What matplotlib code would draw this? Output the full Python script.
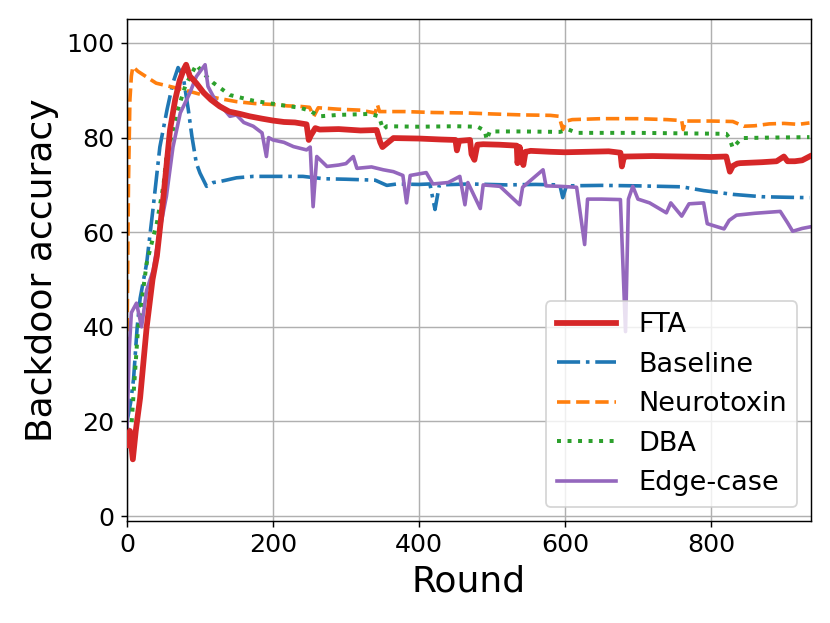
import matplotlib
matplotlib.use("Agg")
import matplotlib.pyplot as plt

# (round, backdoor accuracy)
fta = [(0, 15), (4, 18), (8, 12), (12, 18), (18, 25), (27, 40), (35, 50), (41, 55),
       (50, 67.6), (59, 81.7), (66, 88), (72, 92), (78, 94.5), (81, 95.4), (86, 93),
       (95, 91.5), (105, 89.5), (115, 88), (127, 86.6), (140, 85.5), (155, 85),
       (168, 84.5), (185, 84), (200, 83.6), (215, 83.3), (230, 83.2), (246, 82.8),
       (249, 79.5), (252, 80.5), (258, 82), (264, 81.7), (290, 81.8), (320, 81.5),
       (342, 81.6), (347, 79), (350, 78), (365, 79.9), (400, 79.8), (430, 79.6),
       (450, 79.5), (452, 77.3), (455, 79.3), (470, 79.5), (472, 76.5), (476, 75.3),
       (480, 78.5), (488, 78.6), (510, 78.5), (534, 78.3), (535, 74.6), (538, 78),
       (543, 74.2), (546, 77), (550, 77.1), (553, 77.2), (580, 77), (600, 76.9),
       (630, 77), (660, 77.1), (676, 76.8), (678, 73.9), (681, 76), (684, 76),
       (720, 76.1), (760, 76), (800, 75.9), (821, 76), (826, 72.8), (830, 74),
       (836, 74.5), (840, 74.6), (870, 74.8), (890, 75), (900, 76), (905, 75),
       (915, 75), (925, 75.2), (935, 76)]

baseline = [(0, 20), (5, 24), (9, 29), (14, 40), (18, 46), (27, 53.5), (36, 65.4),
            (45, 78), (55, 86), (63, 91.6), (70, 94.8), (77, 92.9), (84, 85.9),
            (89, 80.2), (95, 74.6), (100, 72.5), (109, 69.7), (118, 70.5), (127, 70.7),
            (150, 71.5), (173, 71.8), (200, 71.8), (241, 71.8), (270, 71.3), (300, 71.2),
            (340, 71), (356, 69.9), (370, 70.2), (400, 70.1), (415, 70.2), (422, 64.8),
            (428, 70), (470, 70.2), (520, 70), (560, 70.1), (593, 70), (597, 67.3),
            (602, 69.8), (650, 69.9), (700, 69.8), (760, 69.6), (790, 68.8), (830, 68),
            (870, 67.5), (900, 67.4), (935, 67.3)]

neurotoxin = [(0, 35), (2, 70), (4, 88), (6, 93), (8, 95), (15, 94), (25, 93),
              (40, 91.5), (59, 90.8), (80, 90), (104, 89), (125, 88.3), (150, 87.6),
              (175, 87.2), (200, 87), (220, 86.7), (237, 86.6), (250, 86.4), (256, 84.5),
              (262, 86.3), (290, 86), (320, 85.8), (340, 85.2), (343, 87), (346, 85.5),
              (380, 85.5), (420, 85.3), (466, 85.2), (500, 85), (540, 84.8), (580, 84.7),
              (592, 84.5), (597, 81.7), (602, 83.5), (610, 83.8), (650, 84), (700, 84),
              (740, 83.8), (760, 83.6), (762, 81.7), (765, 83.5), (800, 83.5), (830, 83.4),
              (845, 82.4), (860, 82.5), (880, 82.9), (900, 83.0), (920, 82.8), (935, 83.1)]

dba = [(0, 18), (6, 19), (15, 39.4), (27, 53.5), (36, 59), (41, 62), (50, 70), (54, 76),
       (59, 79), (68, 85), (80, 91), (95, 95.4), (105, 93.5), (118, 91.6), (141, 89),
       (173, 87.8), (210, 86.9), (237, 86.3), (250, 85.7), (264, 84.5), (290, 84.8),
       (333, 85), (345, 84.5), (351, 81.7), (356, 82.4), (400, 82.3), (450, 82.4),
       (480, 82.3), (490, 81.5), (493, 79.5), (497, 81.3), (540, 81.3), (593, 81.2),
       (605, 81.7), (616, 81), (700, 81), (760, 80.9), (821, 80.8), (825, 80),
       (830, 77.8), (842, 79.9), (880, 80), (935, 80.1)]

edge_case = [(0, 18), (3, 35), (6, 43), (13, 45), (20, 40), (27, 47.8), (36, 52),
             (45, 60.5), (54, 67.6), (63, 78), (73, 85.2), (86, 89.4), (95, 92.9),
             (107, 95.4), (111, 90.8), (123, 87.3), (130, 86.5), (141, 84.5), (150, 84.8),
             (160, 83.2), (173, 82.4), (185, 81), (191, 76), (194, 80), (200, 79.5),
             (215, 79), (228, 78.1), (246, 77.4), (251, 78), (255, 65.4), (260, 76),
             (274, 73.9), (290, 74.2), (300, 74.5), (310, 76), (315, 73.5), (335, 73.8),
             (351, 73.2), (365, 72.8), (378, 72), (383, 66.2), (388, 72), (410, 72.6),
             (419, 70.2), (440, 70.5), (456, 71.8), (463, 65.8), (467, 70.5), (484, 65),
             (488, 70), (511, 69.7), (538, 65.8), (542, 69.5), (570, 73.2), (574, 69.8),
             (593, 69.7), (616, 69.5), (627, 57.4), (631, 67), (650, 67), (676, 66.9),
             (683, 39), (687, 67), (693, 69.7), (700, 67), (716, 66.2), (739, 64.1),
             (745, 66.2), (760, 63.4), (770, 66), (790, 66.2), (795, 61.8), (818, 60.7),
             (825, 62.5), (835, 63.6), (860, 64), (895, 64.4), (905, 62), (912, 60.2),
             (925, 60.8), (935, 61.1)]

x_ticks = [0, 200, 400, 600, 800]
y_ticks = [0, 20, 40, 60, 80, 100]


def xy(pts):
    return [p[0] for p in pts], [p[1] for p in pts]


def main():
    fig = plt.figure(figsize=(830 / 130, 623 / 130), dpi=130)
    ax = fig.add_axes([0.153, 0.164, 0.824, 0.805])
    ax.grid(True, color='#b0b0b0', linewidth=0.8)
    ax.set_axisbelow(True)

    ax.plot(*xy(fta), color='tab:red', linewidth=3.2, label='FTA', zorder=5)
    ax.plot(*xy(baseline), color='tab:blue', linestyle='-.', linewidth=2, label='Baseline')
    ax.plot(*xy(neurotoxin), color='tab:orange', linestyle='--', linewidth=2, label='Neurotoxin')
    ax.plot(*xy(dba), color='tab:green', linestyle=':', linewidth=2.2, label='DBA')
    ax.plot(*xy(edge_case), color='tab:purple', linewidth=2, label='Edge-case')

    ax.set_xlim(0, 937)
    ax.set_ylim(-1, 105)
    ax.set_xticks(x_ticks)
    ax.set_yticks(y_ticks)
    ax.tick_params(labelsize=14)
    ax.set_xlabel('Round', fontsize=20)
    ax.set_ylabel('Backdoor accuracy', fontsize=20)
    ax.legend(loc='lower right', fontsize=15, handlelength=2.2)
    fig.savefig('out.png', dpi=130)


if __name__ == "__main__":
    main()
